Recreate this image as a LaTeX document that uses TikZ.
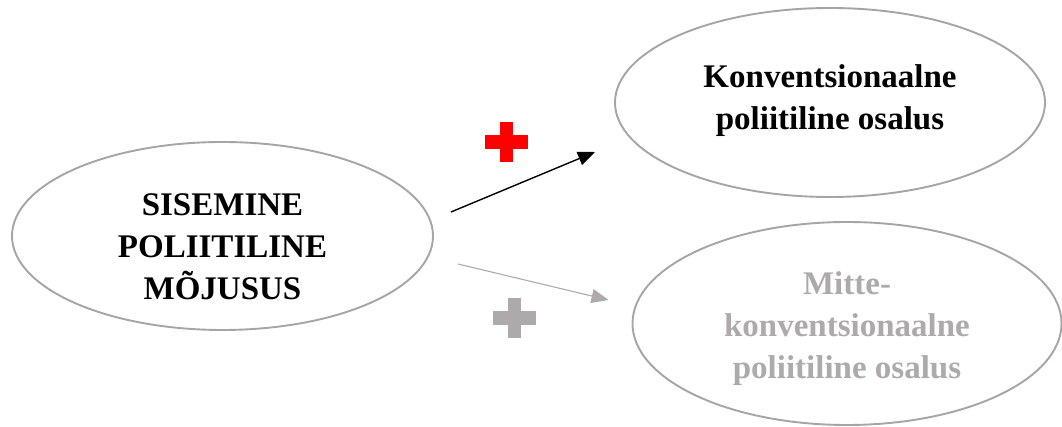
\documentclass[tikz,border=0pt]{standalone}
\usepackage{fontspec}
\setmainfont{Liberation Serif}
\usetikzlibrary{shapes.geometric,arrows.meta}
\definecolor{softgrey}{HTML}{AEAAAA}
\definecolor{rimgrey}{HTML}{A5A5A5}
\definecolor{plusred}{HTML}{FF0000}
\begin{document}
\begin{tikzpicture}[x=1pt,y=1pt,inner sep=0pt,outer sep=0pt,
oval/.style={draw=rimgrey,ellipse,line width=1.9pt},
ovaltext/.style={align=center,font=\fontsize{33}{42}\selectfont\bfseries},
arr/.style={-{Triangle[length=17pt,width=14pt]},line width=1.4pt}]

\useasboundingbox (0,0) rectangle (1062,427);

\draw (222.5,191) node[oval,minimum width=421pt,minimum height=188pt,
  label={[ovaltext,yshift=-11pt]center:SISEMINE\\POLIITILINE\\MÕJUSUS}] (moj) {};
\draw (830,324.5) node[oval,minimum width=430pt,minimum height=189pt,
  label={[ovaltext,yshift=2pt]center:Konventsionaalne\\poliitiline osalus}] (konv) {};
\draw (847,103.5) node[oval,minimum width=429pt,minimum height=203pt,
  label={[ovaltext,text=softgrey,yshift=-5pt]center:Mitte-\\konventsionaalne\\poliitiline osalus}] (mitte) {};

\coordinate (k1) at ([shift={(18,24)}]moj.east);
\coordinate (k2) at ([shift={(-20,-49.5)}]konv.west);
\coordinate (m1) at ([shift={(25,-28)}]moj.east);
\coordinate (m2) at ([shift={(-24,23.5)}]mitte.west);

\draw[arr] (k1) -- (k2);
\draw[arr,softgrey,line width=1.1pt] (m1) -- (m2);

% plus signs
\foreach \px/\py/\pc in {506/285/plusred, 514.5/109/softgrey} {
  \fill[\pc] (\px,\py) +(-21.5,-7) rectangle +(21.5,7);
  \fill[\pc] (\px,\py) +(-6.5,-20) rectangle +(6.5,20);
}

\end{tikzpicture}
\end{document}
